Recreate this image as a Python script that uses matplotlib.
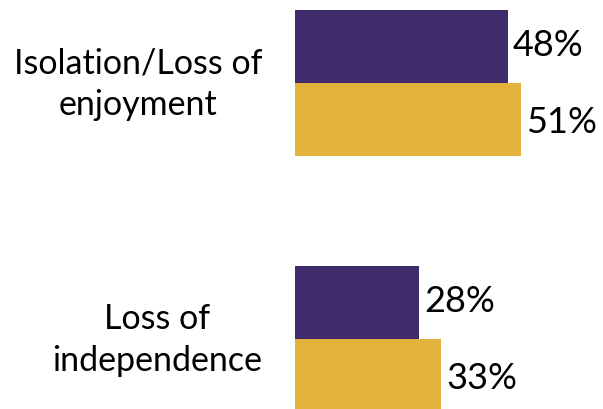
import matplotlib.pyplot as plt

categories = ["Isolation/Loss of\nenjoyment", "Loss of\nindependence"]
series_a = [48, 28]
series_b = [51, 33]
colors = ["#3F2A6B", "#E2B23B"]

plt.rcParams['font.family'] = ['Lato', 'DejaVu Sans']

fig = plt.figure(figsize=(6.03, 4.10), dpi=100)
ax = fig.add_axes([0, 0, 1, 1])

px_per_unit = 4.43
x0 = 295
ax.set_xlim(-x0 / px_per_unit, (603 - x0) / px_per_unit)
ax.set_ylim((410 - 84) / 256, -84 / 256)

h = 0.284
for i, (a, b) in enumerate(zip(series_a, series_b)):
    ax.barh(i - h / 2, a, height=h, color=colors[0], edgecolor='none')
    ax.barh(i + h / 2, b, height=h, color=colors[1], edgecolor='none')
    ax.text(a + 1.2, i - h / 2 - 0.01, f"{a}%", va='center', ha='left', fontsize=26)
    ax.text(b + 1.2, i + h / 2 + 0.01, f"{b}%", va='center', ha='left', fontsize=26)
    ax.text((262 - x0) / px_per_unit, i, categories[i], ha='right', va='center',
            multialignment='center', fontsize=24.5, linespacing=1.35)

ax.axis('off')
fig.savefig("out.png", dpi=100)
